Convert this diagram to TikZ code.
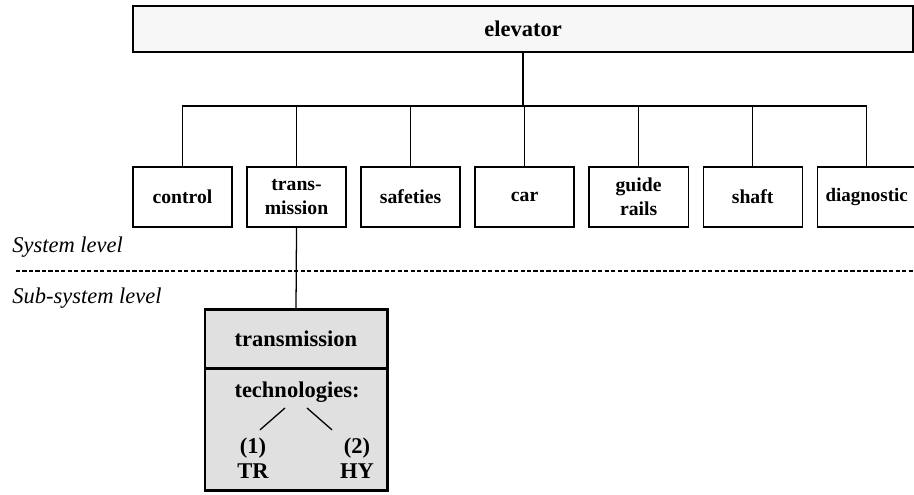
\documentclass[tikz,border=0pt]{standalone}
\usepackage{fontspec}
\setmainfont{Liberation Serif}
\usepackage{tikz}
\usetikzlibrary{
    positioning,
    calc,
}

\begin{document}
\begin{tikzpicture}[
        x=0.025cm, y=-0.025cm,
        node distance=0.375cm and 0.375cm,
        system/.style={
            rectangle, draw=black, line width=0.9pt, fill=black!3,
            minimum width=19.5cm, minimum height=1.15cm,
            text centered, font=\fontsize{16}{19}\selectfont\bfseries
        },
        unit/.style={
            rectangle, draw=black, line width=0.9pt, fill=white,
            minimum width=2.475cm, minimum height=1.5cm,
            inner sep=1pt, outer sep=0pt,
            align=center, font=\fontsize{14}{17}\selectfont\bfseries
        },
        subunit/.style={
            rectangle, draw=black, line width=2.1pt, fill=black!12,
            minimum width=4.55cm, inner sep=1pt, outer sep=0pt,
            align=center, font=\fontsize{16}{18}\selectfont\bfseries
        },
        tech/.style={
            inner sep=1pt, align=center,
            font=\fontsize{16}{18}\selectfont\bfseries
        },
        level/.style={
            anchor=west, inner sep=0pt,
            font=\fontsize{16}{19}\selectfont\itshape
        },
        link/.style={line width=0.9pt, black},
        border/.style={line width=0.8pt, black, dash pattern=on 3pt off 1.6pt},
    ]

    \useasboundingbox (0,0) rectangle (914,494);

    % ── Top: whole system ──
    \node[system] (elevator) at (523,29) {elevator};

    % ── System level: units ──
    \node[unit] (control) at (182.5,197) {control};
    \node[unit, right=of control] (trans) {trans-\\mission};
    \node[unit, right=of trans] (safeties) {safeties};
    \node[unit, right=of safeties] (car) {car};
    \node[unit, right=of car] (rails) {guide\\rails};
    \node[unit, right=of rails] (shaft) {shaft};
    \node[unit, right=of shaft, font=\fontsize{13.5}{16}\selectfont\bfseries]
        (diagnostic) {diagnostic};

    % ── Tree ──
    \coordinate (bus) at (0,106);
    \draw[link] (elevator.south) -- (elevator.south |- bus);
    \draw[link] (control.north) -- (control.north |- bus)
        -- (diagnostic.north |- bus) -- (diagnostic.north);
    \draw[link] (trans.north) -- (trans.north |- bus);
    \draw[link] (safeties.north) -- (safeties.north |- bus);
    \draw[link] (car.north) -- (car.north |- bus);
    \draw[link] (rails.north) -- (rails.north |- bus);
    \draw[link] (shaft.north) -- (shaft.north |- bus);

    % ── Level labels ──
    \node[level] (syslabel) at (12,247) {System level};
    \node[level] (sublabel) at (12,298) {Sub-system level};
    \coordinate (borderL) at (16,271);
    \coordinate (borderR) at (914,271);
    \draw[border] (borderL) -- (borderR);

    % ── Sub-system level ──
    \node[subunit, minimum height=1.475cm] (subhead) at (296,339) {transmission};
    \node[subunit, minimum height=3.05cm, below=0cm of subhead] (subbody) {};
    \draw[link] (trans.south) -- (subhead.north);

    \node[tech] (technologies) at (297,392) {technologies:};
    \node[tech] (tr) at (253,458) {(1)\\TR};
    \node[tech] (hy) at (357,458) {(2)\\HY};
    \draw[link] ([xshift=-0.3cm, yshift=-0.1cm]technologies.south)
        -- ([xshift=0.175cm, yshift=0.15cm]tr.north);
    \draw[link] ([xshift=0.25cm, yshift=-0.1cm]technologies.south)
        -- ([xshift=-0.625cm, yshift=0.15cm]hy.north);

\end{tikzpicture}
\end{document}
